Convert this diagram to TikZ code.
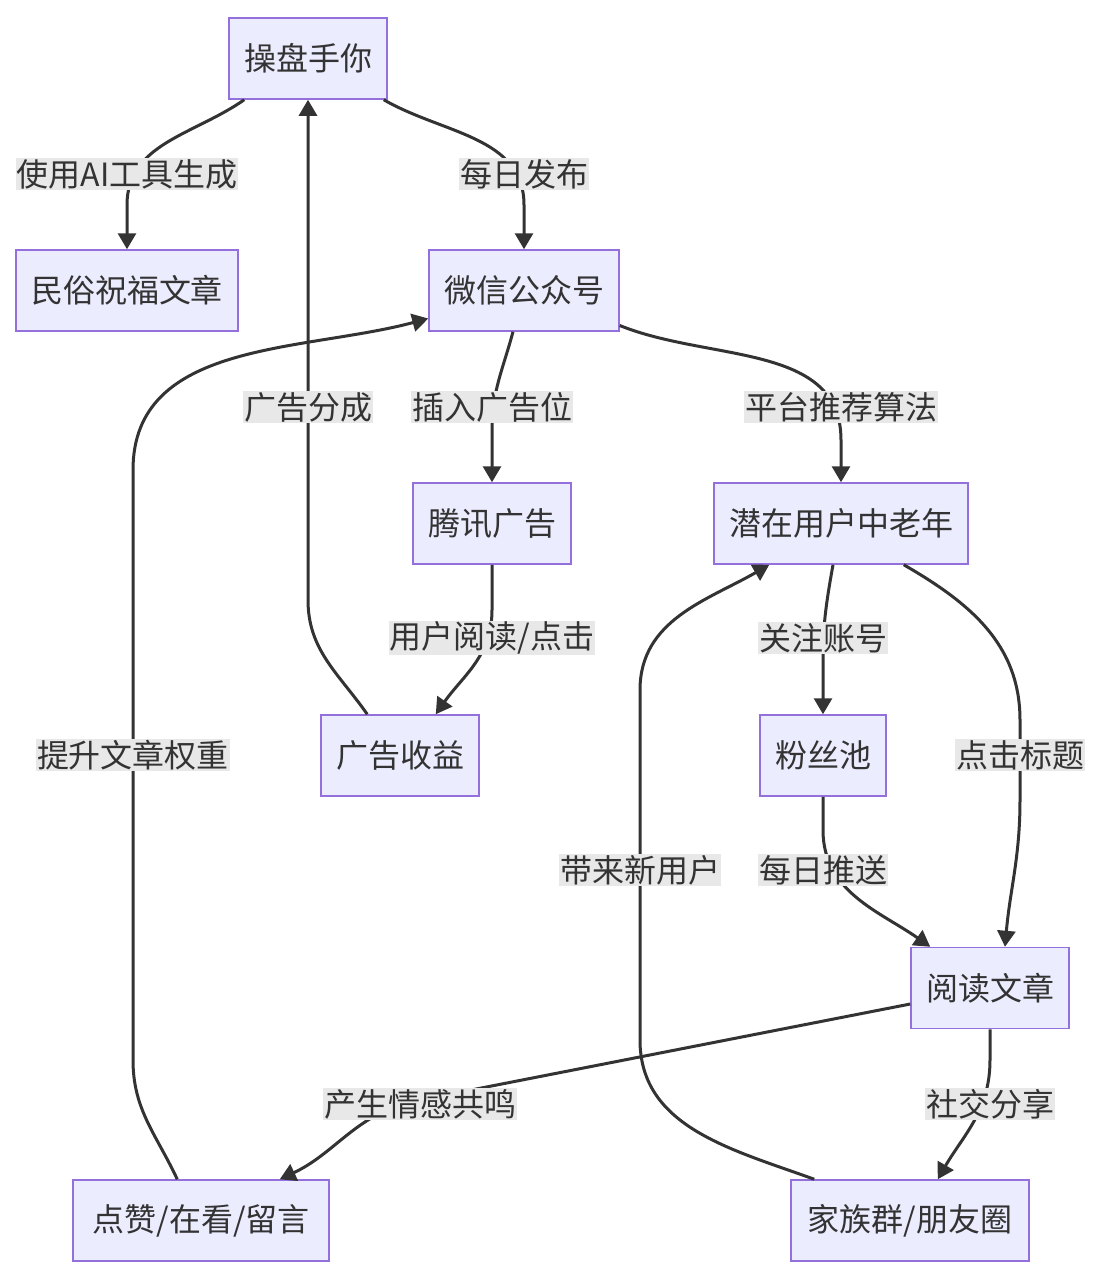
\documentclass[tikz,border=0pt]{standalone}
\usepackage{fontspec}
\setmainfont{Noto Sans CJK SC}
\usetikzlibrary{arrows.meta,calc}
\definecolor{nf}{HTML}{ECECFF}
\definecolor{nb}{HTML}{9370DB}
\definecolor{ed}{HTML}{333333}
\definecolor{lb}{HTML}{E8E8E8}
\begin{document}
\begin{tikzpicture}[x=1pt,y=-1pt,
 box/.style={draw=nb,fill=nf,line width=1.5pt,text=ed,minimum height=81pt,inner sep=0pt,font=\fontsize{32}{36}\selectfont},
 lab/.style={fill=lb,text=ed,inner sep=1pt,font=\fontsize{32}{36}\selectfont},
 arr/.style={draw=ed,line width=3pt,-{Triangle[length=16pt,width=18pt]}}]
\useasboundingbox (0,0) rectangle (1100,1278);
\node[box,minimum width=158pt] (op) at (308,58.5) {操盘手你};
\node[box,minimum width=222pt] (ms) at (127,290.5) {民俗祝福文章};
\node[box,minimum width=190pt] (wx) at (524,290.5) {微信公众号};
\node[box,minimum width=158pt] (tx) at (492,523.5) {腾讯广告};
\node[box,minimum width=254pt] (qz) at (841,523.5) {潜在用户中老年};
\node[box,minimum width=158pt] (sy) at (400,755.5) {广告收益};
\node[box,minimum width=126pt] (fs) at (823,755.5) {粉丝池};
\node[box,minimum width=158pt] (yd) at (990,988) {阅读文章};
\node[box,minimum width=256pt] (dz) at (201,1220.5) {点赞/在看/留言};
\node[box,minimum width=238pt] (jz) at (910,1220.5) {家族群/朋友圈};

\draw[arr] ($(op.south west)+(16,0)$) to[out=215,in=90] (127,205) -- (ms.north);
\node[lab] at (127,174) {使用AI工具生成};
\draw[arr] ($(op.south east)+(-4,0)$) to[out=330,in=90] (524,205) -- (wx.north);
\node[lab] at (524,174) {每日发布};
\draw[arr] ($(wx.south)+(-11,0)$) to[out=255,in=90] (492,430) -- (tx.north);
\node[lab] at (492,407) {插入广告位};
\draw[arr] ($(wx.east)+(0,35)$) to[out=-22,in=90] (841,440) -- (qz.north);
\node[lab] at (841,407) {平台推荐算法};
\draw[arr] (tx.south) -- (492,610) to[out=270,in=55] ($(sy.north east)+(-44,0)$);
\node[lab] at (492,638) {用户阅读/点击};
\draw[arr] ($(sy.north west)+(47,0)$) to[out=125,in=270] (308,600) -- (op.south);
\node[lab] at (308,407) {广告分成};
\draw[arr] ($(qz.south)+(-8,0)$) to[out=260,in=90] (823,660) -- (fs.north);
\node[lab] at (823,638) {关注账号};
\draw[arr] ($(qz.south east)+(-65,0)$) to[out=-30,in=90] (1020,720) -- (1020,800) to[out=270,in=85] ($(yd.north)+(15,0)$);
\node[lab] at (1020,755) {点击标题};
\draw[arr] (fs.south) -- (823,830) to[out=270,in=145] ($(yd.north west)+(20,0)$);
\node[lab] at (823,870) {每日推送};
\draw[arr] ($(yd.west)+(0,16)$) -- (420,1100) to[out=190,in=25] ($(dz.north east)+(-50,0)$);
\node[lab] at (420,1104) {产生情感共鸣};
\draw[arr] (yd.south) -- (990,1060) to[out=270,in=60] ($(jz.north east)+(-92,0)$);
\node[lab] at (990,1104) {社交分享};
\draw[arr] ($(jz.north west)+(24,0)$) to[out=160,in=270] (640,1040) -- (640,690) to[out=90,in=210] ($(qz.south west)+(56,0)$);
\node[lab] at (640,870) {带来新用户};
\draw[arr] ($(dz.north west)+(105,0)$) to[out=115,in=270] (133,1060) -- (133,470) to[out=90,in=195] ($(wx.west)+(0,28)$);
\node[lab] at (133,755) {提升文章权重};
\end{tikzpicture}
\end{document}
